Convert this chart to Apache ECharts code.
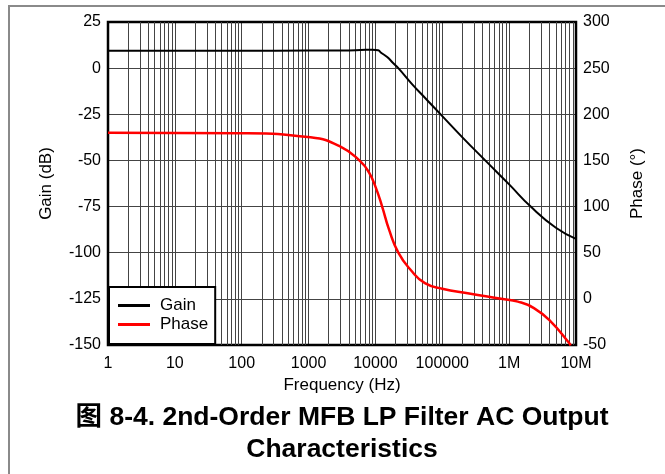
<!DOCTYPE html>
<html>
<head>
<meta charset="utf-8">
<script src="https://cdn.jsdelivr.net/npm/echarts@6/dist/echarts.min.js"></script>
<style>
  html, body { margin: 0; padding: 0; background: #fff; overflow: hidden; }
  #frame { position: absolute; left: 8px; top: 5px; width: 700px; height: 500px; border: 2px solid #8a8a8a; box-sizing: border-box; }
  #main { position: absolute; left: 0; top: 0; width: 665px; height: 474px; }
</style>
</head>
<body>
<div id="frame"></div>
<div id="main"></div>
<script>
// gain curve (dB)
var gainFreq = [1, 10, 100, 1000, 3000, 6000, 9000, 11000, 12000, 15000, 18700, 22000, 35000, 60000, 100000, 200000, 450000, 1e6, 2.1e6, 5e6, 1e7]
var gainDb = [9.4, 9.4, 9.4, 9.5, 9.6, 9.8, 10.0, 9.7, 8.5, 6.0, 2.5, 0, -8.5, -17.5, -26, -37.5, -50.4, -63, -75, -86.5, -92.5]

// phase curve (deg)
var phaseFreq = [1, 100, 1070, 3000, 6000, 8000, 10000, 12600, 16000, 22000, 34000, 55000, 100000, 240000, 760000, 1.35e6, 2.35e6, 4.2e6, 7.9e6, 8.3e6]
var phaseDeg = [180, 179.5, 175, 165, 148.7, 137, 121.6, 100, 75, 50, 31, 17, 11, 6, 0, -3, -10, -24.7, -47.8, -50.5]

var freqTicks = ['1', '10', '100', '1000', '10000', '100000', '1M', '10M']

var titleText = '图 8-4. 2nd-Order MFB LP Filter AC Output\nCharacteristics'

function pairs (xs, ys) {
  return xs.map(function (x, i) { return [x, ys[i]] })
}

// minor vertical grid lines at 2..9 of each decade
var minorLines = []
for (var d = 0; d < 7; d++) {
  for (var m = 2; m <= 9; m++) {
    minorLines.push({ xAxis: m * Math.pow(10, d) })
  }
}

var fontFam = '"Liberation Sans", Arial, "Noto Sans CJK SC", sans-serif'
var gridColor = '#444'

var myChart = echarts.init(document.getElementById('main'), null, { renderer: 'canvas' })
var option = {
  animation: false,
  textStyle: { fontFamily: fontFam },
  grid: {
    left: 108,
    right: 89,
    top: 22,
    bottom: 129,
    show: true,
    borderColor: '#000',
    borderWidth: 2.5,
    z: 3
  },
  legend: {
    orient: 'vertical',
    left: 109,
    top: 287,
    data: ['Gain', 'Phase'],
    icon: 'rect',
    itemWidth: 32,
    itemHeight: 3,
    itemGap: 0,
    padding: [9, 7, 10, 9],
    backgroundColor: '#fff',
    borderColor: '#000',
    borderWidth: 2,
    borderRadius: 0,
    textStyle: { fontSize: 17, color: '#000', lineHeight: 19, padding: [0, 0, 0, 5], fontFamily: fontFam },
    z: 10
  },
  xAxis: {
    type: 'log',
    logBase: 10,
    min: 1,
    max: 1e7,
    name: 'Frequency (Hz)',
    nameLocation: 'middle',
    nameGap: 30,
    nameTextStyle: { fontSize: 17, color: '#000' },
    axisLine: { show: false },
    axisTick: { show: false },
    axisLabel: {
      fontSize: 16,
      color: '#000',
      margin: 11,
      formatter: function (v) {
        var k = Math.round(Math.log10(v))
        return freqTicks[k]
      }
    },
    splitLine: { show: true, lineStyle: { color: gridColor, width: 1 } }
  },
  yAxis: [{
    type: 'value',
    min: -150,
    max: 25,
    interval: 25,
    name: 'Gain (dB)',
    nameLocation: 'middle',
    nameRotate: 90,
    nameGap: 53,
    nameTextStyle: { fontSize: 17, color: '#000' },
    axisLine: { show: false },
    axisTick: { show: false },
    axisLabel: { fontSize: 16, color: '#000', margin: 7 },
    splitLine: { show: true, lineStyle: { color: gridColor, width: 1 } }
  }, {
    type: 'value',
    min: -50,
    max: 300,
    interval: 50,
    position: 'right',
    name: 'Phase (°)',
    nameLocation: 'middle',
    nameRotate: 90,
    nameGap: 53,
    nameTextStyle: { fontSize: 17, color: '#000' },
    axisLine: { show: false },
    axisTick: { show: false },
    axisLabel: { fontSize: 16, color: '#000', margin: 7 },
    splitLine: { show: false }
  }],
  series: [{
    name: 'grid',
    type: 'line',
    data: [],
    silent: true,
    markLine: {
      silent: true,
      symbol: 'none',
      label: { show: false },
      animation: false,
      lineStyle: { color: gridColor, width: 1, type: 'solid' },
      data: minorLines
    }
  }, {
    name: 'Gain',
    type: 'line',
    yAxisIndex: 0,
    data: pairs(gainFreq, gainDb),
    showSymbol: false,
    smooth: true,
    color: '#000',
    lineStyle: { color: '#000', width: 2 },
    z: 5
  }, {
    name: 'Phase',
    type: 'line',
    yAxisIndex: 1,
    data: pairs(phaseFreq, phaseDeg),
    showSymbol: false,
    smooth: true,
    color: '#f00',
    lineStyle: { color: '#f00', width: 2.5 },
    z: 5
  }],
  graphic: [{
    type: 'text',
    x: 342,
    y: 402,
    style: {
      text: titleText,
      font: 'bold 26.5px ' + fontFam,
      fill: '#000',
      align: 'center',
      lineHeight: 32
    }
  }]
}

myChart.setOption(option, true)
</script>
</body>
</html>
